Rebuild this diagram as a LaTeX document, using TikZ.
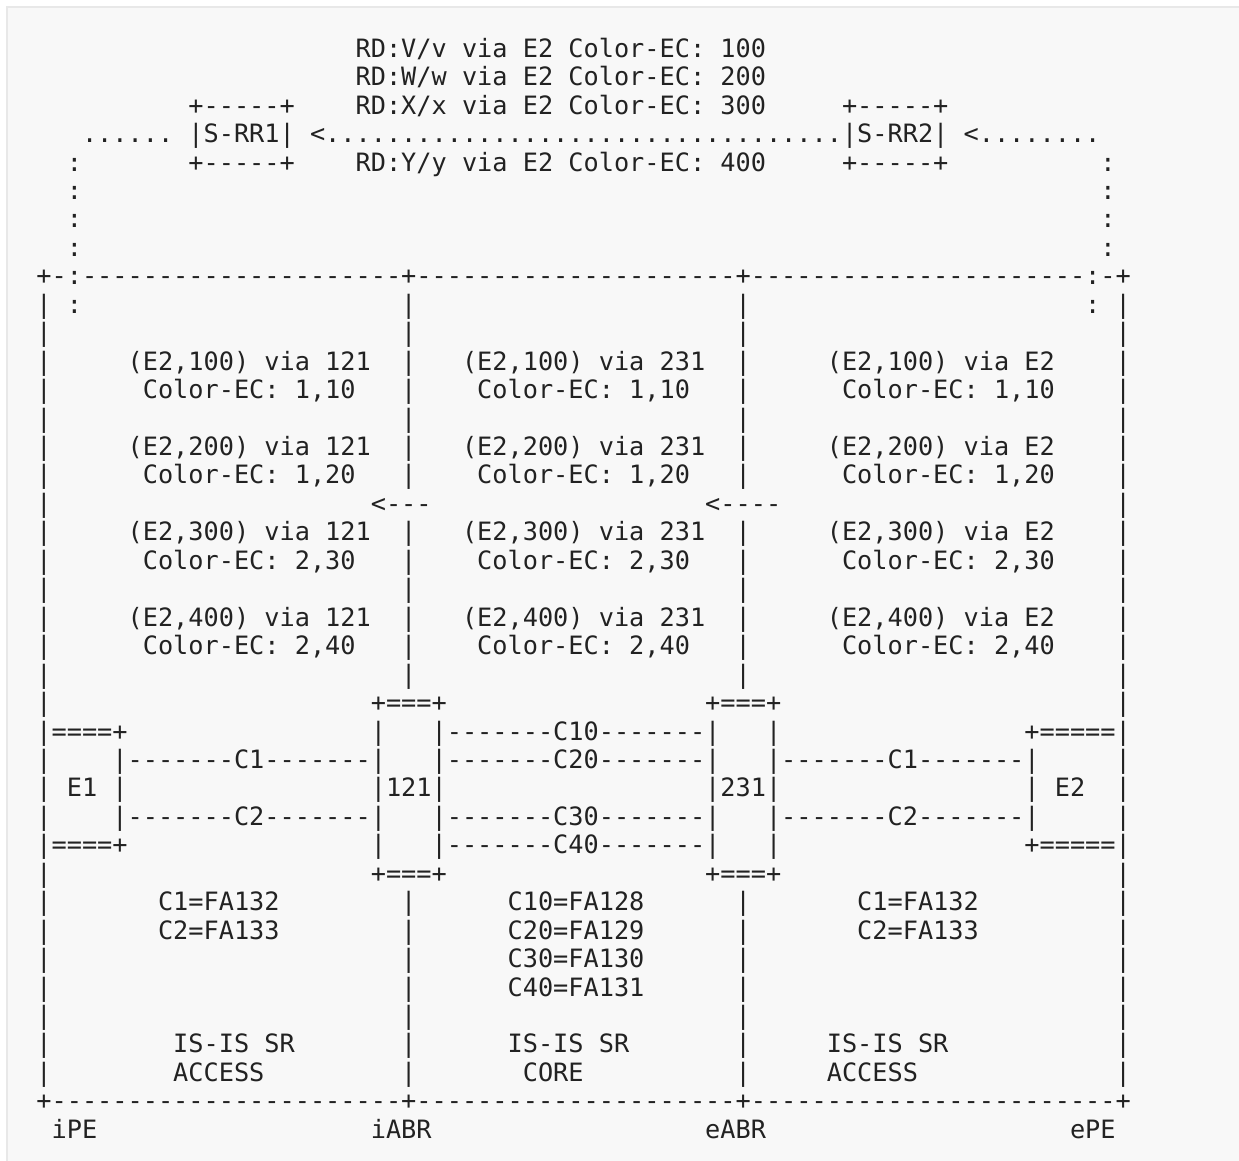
\documentclass[tikz,border=0pt]{standalone}
\usepackage{fontspec}
\setmonofont{DejaVu Sans Mono}
\definecolor{panelbg}{HTML}{F8F8F8}
\definecolor{panelline}{HTML}{E8E8E8}
\definecolor{ink}{HTML}{222222}
\newcommand{\asciifont}{\fontsize{25.25pt}{28.45pt}\selectfont\ttfamily\frenchspacing}

\begin{document}
\begin{tikzpicture}[
txt/.style={anchor=base west,inner sep=0pt,outer sep=0pt,font=\asciifont,text=ink},
wall/.style={txt},
dots/.style={txt}]
\useasboundingbox (0pt,0pt) rectangle (1239pt,-1160pt);
\fill[panelbg,draw=panelline,line width=1.5pt] (7pt,-7pt) rectangle (1260pt,-1180pt);
\begin{scope}[shift={(36.4pt,-57.2pt)},x=15.2pt,y=-28.45pt]
% route reflectors and advertised routes
\node[txt](rd1) at (21,0) {RD:V/v via E2 Color-EC: 100};
\node[txt](rd2) at (21,1) {RD:W/w via E2 Color-EC: 200};
\node[txt](rronetop) at (10,2) {+-----+};
\node[txt](rd3) at (21,2) {RD:X/x via E2 Color-EC: 300};
\node[txt](rrtwotop) at (53,2) {+-----+};
\node[dots](lfeed) at (3,3) {......};
\node[txt](rrone) at (10,3) {|S-RR1|};
\node[dots](rrlink) at (18,3) {<..........{}..........{}..........{}....};
\node[txt](rrtwo) at (53,3) {|S-RR2|};
\node[dots](rfeed) at (61,3) {<........};
\node[txt](rronebot) at (10,4) {+-----+};
\node[txt](rd4) at (21,4) {RD:Y/y via E2 Color-EC: 400};
\node[txt](rrtwobot) at (53,4) {+-----+};
\foreach \r in {4,...,7}{
  \node[dots](lc\r) at (2,\r) {:};
  \node[dots](rc\r) at (70,\r) {:};
}
\node[dots](lc9) at (2,9) {:};
\node[dots](rc9) at (69,9) {:};
% domain frame
\node[txt](tl) at (0,8) {+-:};
\node[txt](topa) at (3,8) {----------{}----------{}-};
\node[txt](ttop) at (24,8) {+};
\node[txt](topb) at (25,8) {----------{}----------{}-};
\node[txt](etop) at (46,8) {+};
\node[txt](topc) at (47,8) {----------{}----------{}--};
\node[txt](tr) at (69,8) {:-+};
\foreach \r in {9,...,23}{
  \node[wall](lb\r) at (0,\r) {|};
  \node[wall](rb\r) at (71,\r) {|};
}
\foreach \r in {25,...,27,29,30,31,32,33,34,35,36}{
  \node[wall](lb\r) at (0,\r) {|};
  \node[wall](rb\r) at (71,\r) {|};
}
\foreach \r in {9,...,15,17,18,19,20,21,22,30,31,32,33,34,35,36}{
  \node[wall](ib\r) at (24,\r) {|};
  \node[wall](eb\r) at (46,\r) {|};
}
% color-aware routes per domain
\node[txt](l100) at (6,11) {(E2,100) via 121};
\node[txt](m100) at (28,11) {(E2,100) via 231};
\node[txt](r100) at (52,11) {(E2,100) via E2};
\node[txt](l10) at (7,12) {Color-EC: 1,10};
\node[txt](m10) at (29,12) {Color-EC: 1,10};
\node[txt](r10) at (53,12) {Color-EC: 1,10};
\node[txt](l200) at (6,14) {(E2,200) via 121};
\node[txt](m200) at (28,14) {(E2,200) via 231};
\node[txt](r200) at (52,14) {(E2,200) via E2};
\node[txt](l20) at (7,15) {Color-EC: 1,20};
\node[txt](m20) at (29,15) {Color-EC: 1,20};
\node[txt](r20) at (53,15) {Color-EC: 1,20};
\node[txt](iarrow) at (22,16) {<---};
\node[txt](earrow) at (44,16) {<----};
\node[txt](l300) at (6,17) {(E2,300) via 121};
\node[txt](m300) at (28,17) {(E2,300) via 231};
\node[txt](r300) at (52,17) {(E2,300) via E2};
\node[txt](l30) at (7,18) {Color-EC: 2,30};
\node[txt](m30) at (29,18) {Color-EC: 2,30};
\node[txt](r30) at (53,18) {Color-EC: 2,30};
\node[txt](l400) at (6,20) {(E2,400) via 121};
\node[txt](m400) at (28,20) {(E2,400) via 231};
\node[txt](r400) at (52,20) {(E2,400) via E2};
\node[txt](l40) at (7,21) {Color-EC: 2,40};
\node[txt](m40) at (29,21) {Color-EC: 2,40};
\node[txt](r40) at (53,21) {Color-EC: 2,40};
% routers and flex-algo links
\node[txt](ionetop) at (22,23) {+===+};
\node[txt](itwotop) at (44,23) {+===+};
\node[txt](eonetop) at (0,24) {|====+};
\node[txt](ionel) at (22,24) {|};
\node[txt](cten) at (26,24) {|-------C10-------|};
\node[txt](itwor) at (48,24) {|};
\node[txt](etwotop) at (65,24) {+=====|};
\node[txt](cone) at (5,25) {|-------C1-------|};
\node[txt](ctwenty) at (26,25) {|-------C20-------|};
\node[txt](coner) at (48,25) {|-------C1-------|};
\node[txt](eone) at (2,26) {E1};
\node[txt](eonebar) at (5,26) {|};
\node[txt](ione) at (22,26) {|121|};
\node[txt](itwo) at (44,26) {|231|};
\node[txt](etwobar) at (65,26) {|};
\node[txt](etwo) at (67,26) {E2};
\node[txt](ctwo) at (5,27) {|-------C2-------|};
\node[txt](cthirty) at (26,27) {|-------C30-------|};
\node[txt](ctwor) at (48,27) {|-------C2-------|};
\node[txt](eonebot) at (0,28) {|====+};
\node[txt](ionelb) at (22,28) {|};
\node[txt](cforty) at (26,28) {|-------C40-------|};
\node[txt](itworb) at (48,28) {|};
\node[txt](etwobot) at (65,28) {+=====|};
\node[txt](ionebot) at (22,29) {+===+};
\node[txt](itwobot) at (44,29) {+===+};
% flex-algo mapping and IGP domains
\node[txt](lfa1) at (8,30) {C1=FA132};
\node[txt](mfa1) at (31,30) {C10=FA128};
\node[txt](rfa1) at (54,30) {C1=FA132};
\node[txt](lfa2) at (8,31) {C2=FA133};
\node[txt](mfa2) at (31,31) {C20=FA129};
\node[txt](rfa2) at (54,31) {C2=FA133};
\node[txt](mfa3) at (31,32) {C30=FA130};
\node[txt](mfa4) at (31,33) {C40=FA131};
\node[txt](lisis) at (9,35) {IS-IS SR};
\node[txt](misis) at (31,35) {IS-IS SR};
\node[txt](risis) at (52,35) {IS-IS SR};
\node[txt](laccess) at (9,36) {ACCESS};
\node[txt](mcore) at (32,36) {CORE};
\node[txt](raccess) at (52,36) {ACCESS};
\node[txt](bl) at (0,37) {+};
\node[txt](bota) at (1,37) {----------{}----------{}---};
\node[txt](ibot) at (24,37) {+};
\node[txt](botb) at (25,37) {----------{}----------{}-};
\node[txt](ebot) at (46,37) {+};
\node[txt](botc) at (47,37) {----------{}----------{}----};
\node[txt](br) at (71,37) {+};
\node[txt](ipe) at (1,38) {iPE};
\node[txt](iabr) at (22,38) {iABR};
\node[txt](eabr) at (44,38) {eABR};
\node[txt](epe) at (68,38) {ePE};
\end{scope}
\end{tikzpicture}
\end{document}
